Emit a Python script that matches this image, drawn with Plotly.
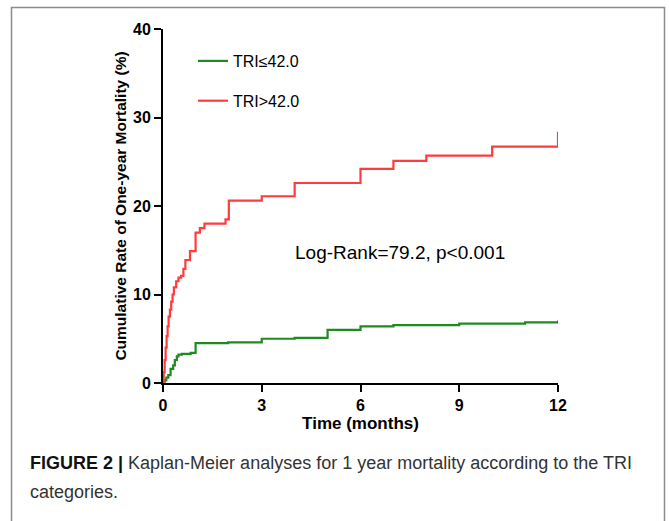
import plotly.graph_objects as go

# ---- data ----
low_t = [0, 0.05, 0.10, 0.16, 0.23, 0.31, 0.36, 0.42, 0.47, 0.57, 0.84, 0.99, 1.98, 3.0, 4.0, 5.0, 6.0, 7.0, 9.0, 11.0, 12.0]
low_v = [0, 0.3, 0.6, 0.9, 1.6, 2.0, 2.6, 3.0, 3.2, 3.3, 3.4, 4.5, 4.6, 5.0, 5.1, 6.0, 6.4, 6.55, 6.7, 6.85, 7.05]

high_t = [0, 0.02, 0.05, 0.08, 0.11, 0.14, 0.17, 0.21, 0.25, 0.29, 0.33, 0.40, 0.47, 0.55, 0.62, 0.68,
          0.82, 0.99, 1.12, 1.26, 1.90, 2.0, 3.0, 4.0, 6.0, 7.0, 8.0, 10.0, 12.0]
high_v = [0, 1.2, 2.6, 4.0, 5.3, 6.4, 7.5, 8.3, 9.2, 10.0, 10.8, 11.5, 11.9, 12.1, 12.9, 13.9,
          14.9, 17.0, 17.5, 18.0, 18.5, 20.6, 21.1, 22.6, 24.2, 25.1, 25.7, 26.7, 28.4]

series_names = ["TRI≤42.0", "TRI>42.0"]
x_ticks = [0, 3, 6, 9, 12]
y_ticks = [0, 10, 20, 30, 40]

GREEN = "#1f8a1f"
RED = "#ff3b3b"

fig = go.Figure()
fig.add_trace(go.Scatter(x=low_t, y=low_v, mode="lines", line=dict(color=GREEN, width=2.2, shape="hv"),
                         name=series_names[0], legendgroup="a"))
fig.add_trace(go.Scatter(x=high_t, y=high_v, mode="lines", line=dict(color=RED, width=2.2, shape="hv"),
                         name=series_names[1], legendgroup="b"))

W, H = 669, 521
L, R, T, B = 163, 111, 29, 138
pw, ph = W - L - R, H - T - B

def px(x):
    return (x - L) / pw

def py(y):
    return (H - B - y) / ph

FONT = "Arial, Liberation Sans, sans-serif"

fig.update_layout(
    width=W, height=H,
    margin=dict(l=L, r=R, t=T, b=B),
    paper_bgcolor="white", plot_bgcolor="white",
    font=dict(family=FONT, color="black"),
    showlegend=True,
    legend=dict(x=px(193), y=py(44), xanchor="left", yanchor="top",
                font=dict(size=16, color="black"), bgcolor="rgba(0,0,0,0)",
                tracegroupgap=16),
    xaxis=dict(range=[0, 12], tickvals=x_ticks, ticktext=["<b>%d</b>" % v for v in x_ticks],
               showgrid=False, zeroline=False, showline=True, linecolor="black", linewidth=2,
               ticks="outside", ticklen=7, tickwidth=2, tickcolor="black",
               tickfont=dict(size=16, family=FONT),
               title=dict(text="<b>Time (months)</b>", font=dict(size=17), standoff=4)),
    yaxis=dict(range=[0, 40], tickvals=y_ticks, ticktext=["<b>%d</b>" % v for v in y_ticks],
               showgrid=False, zeroline=False, showline=True, linecolor="black", linewidth=2,
               ticks="outside", ticklen=7, tickwidth=2, tickcolor="black",
               tickfont=dict(size=16, family=FONT),
               title=dict(text="<b>Cumulative Rate of One-year Mortality (%)</b>", font=dict(size=15.5), standoff=3)),
)

fig.add_annotation(x=7.19, y=14.7, xref="x", yref="y", text="Log-Rank=79.2, p<0.001",
                   showarrow=False, font=dict(size=19, color="black"))

cap_font = dict(family=FONT, size=18, color="#333333")
fig.add_annotation(x=px(28), y=py(463), xref="paper", yref="paper", xanchor="left", yanchor="middle",
                   text="<b><span style='color:#111'>FIGURE 2 |</span></b> Kaplan-Meier analyses for 1 year mortality according to the TRI",
                   showarrow=False, font=cap_font, align="left")
fig.add_annotation(x=px(28), y=py(492), xref="paper", yref="paper", xanchor="left", yanchor="middle",
                   text="categories.", showarrow=False, font=cap_font, align="left")

# outer figure frame
fig.add_shape(type="rect", xref="paper", yref="paper",
              x0=px(11.5), x1=px(664.5), y0=py(540), y1=py(7.5),
              line=dict(color="#8c8c8c", width=1.5), fillcolor="rgba(0,0,0,0)", layer="below")

fig.write_html("out.html")
